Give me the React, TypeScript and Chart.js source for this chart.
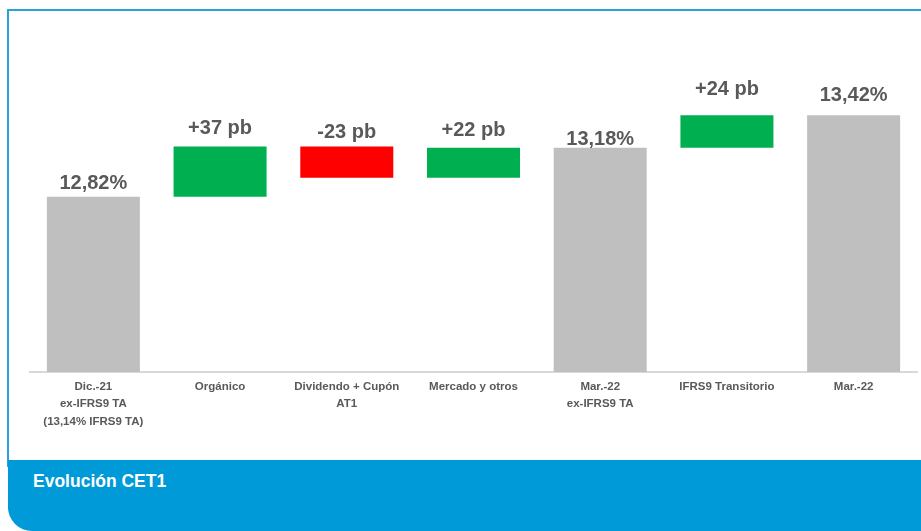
import React, { useEffect, useRef } from "react";
import { Chart, registerables } from "chart.js";

Chart.register(...registerables);

// ---- Data ----
const categories: string[][] = [
  ["Dic.-21", "ex-IFRS9 TA", "(13,14% IFRS9 TA)"],
  ["Orgánico"],
  ["Dividendo + Cupón", "AT1"],
  ["Mercado y otros"],
  ["Mar.-22", "ex-IFRS9 TA"],
  ["IFRS9 Transitorio"],
  ["Mar.-22"],
];
const totals: (number | null)[] = [12.82, null, null, null, 13.18, null, 13.42];
const deltasPb: (number | null)[] = [null, 37, -23, 22, null, 24, null];
const axisMin = 11.53;
const axisMax = 14.12;

// ---- Style ----
const labelGaps = [8, 12.7, 8, 12, 2.7, 20, 14];
const GRAY = "#bfbfbf";
const GREEN = "#00b050";
const RED = "#ff0000";

function buildSeries() {
  const ranges: [number, number][] = [];
  const colors: string[] = [];
  const texts: string[] = [];
  let running = 0;
  categories.forEach((_, i) => {
    const t = totals[i];
    const d = deltasPb[i];
    if (t !== null && t !== undefined) {
      ranges.push([axisMin, t]);
      colors.push(GRAY);
      texts.push(t.toFixed(2).replace(".", ",") + "%");
      running = t;
    } else if (d !== null && d !== undefined) {
      const next = running + d / 100;
      ranges.push([running, next]);
      colors.push(d >= 0 ? GREEN : RED);
      texts.push((d > 0 ? "+" : "") + d + " pb");
      running = next;
    }
  });
  return { ranges, colors, texts };
}

export default function App() {
  const canvasRef = useRef<HTMLCanvasElement | null>(null);

  useEffect(() => {
    if (!canvasRef.current) return;
    const { ranges, colors, texts } = buildSeries();

    const valueLabels = {
      id: "valueLabels",
      afterDatasetsDraw(chart: any) {
        const ctx = chart.ctx;
        const meta = chart.getDatasetMeta(0);
        ctx.save();
        ctx.font = 'bold 20px "Liberation Sans", Arial, sans-serif';
        ctx.fillStyle = "#595959";
        ctx.textAlign = "center";
        ctx.textBaseline = "alphabetic";
        meta.data.forEach((bar: any, i: number) => {
          const top = Math.min(bar.y, bar.base);
          ctx.fillText(texts[i], bar.x, top - labelGaps[i]);
        });
        ctx.restore();
      },
    };

    const chart = new Chart(canvasRef.current, {
      type: "bar",
      data: {
        labels: categories,
        datasets: [
          {
            data: ranges as any,
            backgroundColor: colors,
            borderWidth: 0,
            borderSkipped: false,
            barPercentage: 0.734,
            categoryPercentage: 1,
          },
        ],
      },
      options: {
        responsive: false,
        animation: false,
        devicePixelRatio: 1,
        layout: { padding: { left: 30, right: 4, top: 20, bottom: 0 } },
        plugins: {
          legend: { display: false },
          tooltip: { enabled: false },
          title: { display: false },
        },
        scales: {
          x: {
            grid: { display: false, drawTicks: false },
            border: { display: true, color: "#d9d9d9", width: 2 },
            ticks: {
              color: "#595959",
              font: { family: '"Liberation Sans", Arial, sans-serif', size: 11.5, weight: "bold", lineHeight: 1.52 },
              padding: 6,
              maxRotation: 0,
              autoSkip: false,
            },
            afterFit: (axis: any) => {
              axis.height = 88;
            },
          },
          y: {
            display: false,
            min: axisMin,
            max: axisMax,
          },
        },
      },
      plugins: [valueLabels],
    });
    return () => chart.destroy();
  }, []);

  return (
    <div
      style={{
        position: "fixed",
        left: 0,
        top: 0,
        width: 921,
        height: 531,
        background: "#ffffff",
        overflow: "hidden",
      }}
    >
      <div
        style={{
          position: "absolute",
          left: 7,
          top: 9,
          width: 940,
          height: 458,
          border: "2px solid #29a3dc",
          boxSizing: "border-box",
        }}
      />
      <div
        style={{
          position: "absolute",
          left: 8,
          top: 460,
          width: 940,
          height: 71,
          background: "#009ad8",
          borderBottomLeftRadius: 24,
        }}
      />
      <div
        style={{
          position: "absolute",
          left: 33,
          top: 471,
          color: "#ffffff",
          fontFamily: '"Liberation Sans", Arial, sans-serif',
          fontWeight: "bold",
          fontSize: 17.5,
          lineHeight: "20px",
        }}
      >
        Evolución CET1
      </div>
      <canvas
        ref={canvasRef}
        width={921}
        height={460}
        style={{ position: "absolute", left: 0, top: 0, width: 921, height: 460 }}
      />
    </div>
  );
}
